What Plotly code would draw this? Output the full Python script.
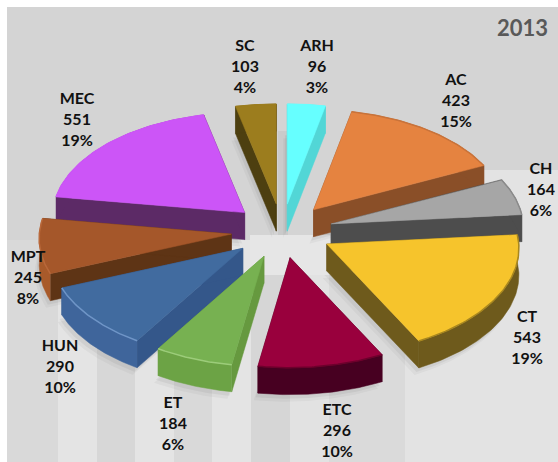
import numpy as np
import plotly.graph_objects as go

# ---- data ----
categories = ["ARH", "AC", "CH", "CT", "ETC", "ET", "HUN", "MPT", "MEC", "SC"]
values = [96, 423, 164, 543, 296, 184, 290, 245, 551, 103]
percents = ["3%", "15%", "6%", "19%", "10%", "6%", "10%", "8%", "19%", "4%"]
title = "2013"

# ---- styles ----
top_colors = ["#66ffff", "#e58340", "#a6a6a6", "#f6c42c", "#99003d", "#77b151", "#416b9f", "#a5572a", "#cc55f7", "#9c7d1e"]
cut_colors = ["#52d6d6", "#8a4f28", "#4d4d4d", "#6e5a1c", "#470021", "#66993f", "#34578a", "#5e3415", "#5c2a66", "#4d3f10"]
rim_colors = ["#52d6d6", "#8a4f28", "#4d4d4d", "#6e5a1c", "#470021", "#6ca345", "#3f659b", "#a85a2a", "#5c2a66", "#4d3f10"]
edge_colors = ["#66ffff", "#c9733a", "#8a8a8a", "#a8871f", "#6d002c", "#9ccc7a", "#6f95c7", "#b9683a", "#cc55f7", "#9c7d1e"]
label_x = [317, 456, 541, 527, 337, 173, 60, 28, 77, 245]
label_y = [68, 102, 191, 339, 432, 425, 368, 279, 121, 68]

# projection of the tilted pie
CX, CY = 282, 231
RX, RX_PERSP, RB, PERSP = 192, 8, 105, 5
EX, EY = 51, 27
DEPTH = 27

total = sum(values)
fracs = np.cumsum([0] + values) / total * 2 * np.pi


def project(theta):
    return (np.sin(theta) * (RX - RX_PERSP * np.cos(theta)),
            -np.cos(theta) * (RB - PERSP * np.cos(theta)))


def add_poly(fig, xs, ys, color, line=None):
    fig.add_trace(go.Scatter(
        x=list(xs), y=list(ys), mode="lines", fill="toself", fillcolor=color,
        line=dict(color=line or color, width=0.5), hoverinfo="skip", showlegend=False))


fig = go.Figure()

order = sorted(range(len(values)),
               key=lambda i: -np.cos((fracs[i] + fracs[i + 1]) / 2))

# soft shadows under the slices
for i in order:
    t0, t1 = fracs[i], fracs[i + 1]
    mid = (t0 + t1) / 2
    tx, ty = CX + EX * np.sin(mid), CY - EY * np.cos(mid)
    th = np.linspace(t0, t1, 60)
    ax, ay = project(th)
    xs = np.r_[tx, tx + ax, tx]
    ys = np.r_[ty, ty + ay, ty]
    for grow, alpha in ((7, 0.035), (4, 0.05)):
        add_poly(fig, xs - grow * 0.6, ys + DEPTH + grow, f"rgba(0,0,0,{alpha})", "rgba(0,0,0,0)")

for i in order:
    t0, t1 = fracs[i], fracs[i + 1]
    mid = (t0 + t1) / 2
    tx, ty = CX + EX * np.sin(mid), CY - EY * np.cos(mid)
    th = np.linspace(t0, t1, 60)
    ax, ay = project(th)
    arc_x, arc_y = tx + ax, ty + ay
    # two cut faces
    add_poly(fig, [tx, arc_x[0], arc_x[0], tx, tx], [ty, arc_y[0], arc_y[0] + DEPTH, ty + DEPTH, ty], cut_colors[i])
    add_poly(fig, [tx, arc_x[-1], arc_x[-1], tx, tx], [ty, arc_y[-1], arc_y[-1] + DEPTH, ty + DEPTH, ty], cut_colors[i])
    # outer rim (only its front-facing part shows)
    add_poly(fig, np.r_[arc_x, arc_x[::-1]], np.r_[arc_y, arc_y[::-1] + DEPTH], rim_colors[i])
    # top face
    add_poly(fig, np.r_[tx, arc_x, tx], np.r_[ty, arc_y, ty], top_colors[i])
    # bevel along the outer edge
    fig.add_trace(go.Scatter(x=arc_x, y=arc_y, mode="lines",
                             line=dict(color=edge_colors[i], width=1.5),
                             hoverinfo="skip", showlegend=False))

# labels
fig.add_trace(go.Scatter(
    x=label_x, y=label_y, mode="text",
    text=[f"{c}<br>{v}<br>{p}" for c, v, p in zip(categories, values, percents)],
    textposition="middle center",
    textfont=dict(family="Lato", size=16, color="#111111", weight="bold"),
    hoverinfo="skip", showlegend=False))

# background panel and stripes
bg = [dict(type="rect", x0=7, x1=558, y0=7, y1=462, fillcolor="#d4d4d4", line_width=0, layer="below")]
stripes = [(7, 58, "#d9d9d9"), (58, 97, "#e4e4e4"), (97, 135, "#d7d7d7"), (135, 174, "#e4e4e4"),
           (174, 212, "#d9d9d9"), (212, 251, "#e4e4e4"), (251, 290, "#d6d6d6"), (290, 329, "#e2e2e2"),
           (329, 405, "#dadada")]
for a, b, c in stripes:
    bg.append(dict(type="rect", x0=a, x1=b, y0=240, y1=462, fillcolor=c, line_width=0, layer="below"))
bg.append(dict(type="rect", x0=405, x1=558, y0=170, y1=462, fillcolor="#e3e3e3", line_width=0, layer="below"))
bg.append(dict(type="rect", x0=250, x1=330, y0=235, y1=275, fillcolor="#e6e6e6", line_width=0, layer="below"))
bg.append(dict(type="rect", x0=278, x1=288, y0=131, y1=235, fillcolor="#cacaca", line_width=0, layer="below"))

fig.update_layout(
    width=558, height=462, autosize=False,
    margin=dict(l=0, r=0, t=0, b=0),
    paper_bgcolor="white", plot_bgcolor="white",
    xaxis=dict(range=[0, 558], visible=False, fixedrange=True),
    yaxis=dict(range=[462, 0], visible=False, fixedrange=True),
    shapes=bg,
    annotations=[dict(x=522, y=27, xref="x", yref="y", text=f"<b>{title}</b>", showarrow=False,
                      font=dict(family="Lato", size=22, color="#595959"))],
)

fig.write_html("out.html", config={"displayModeBar": False},
               post_script="document.body.style.margin='0';")
